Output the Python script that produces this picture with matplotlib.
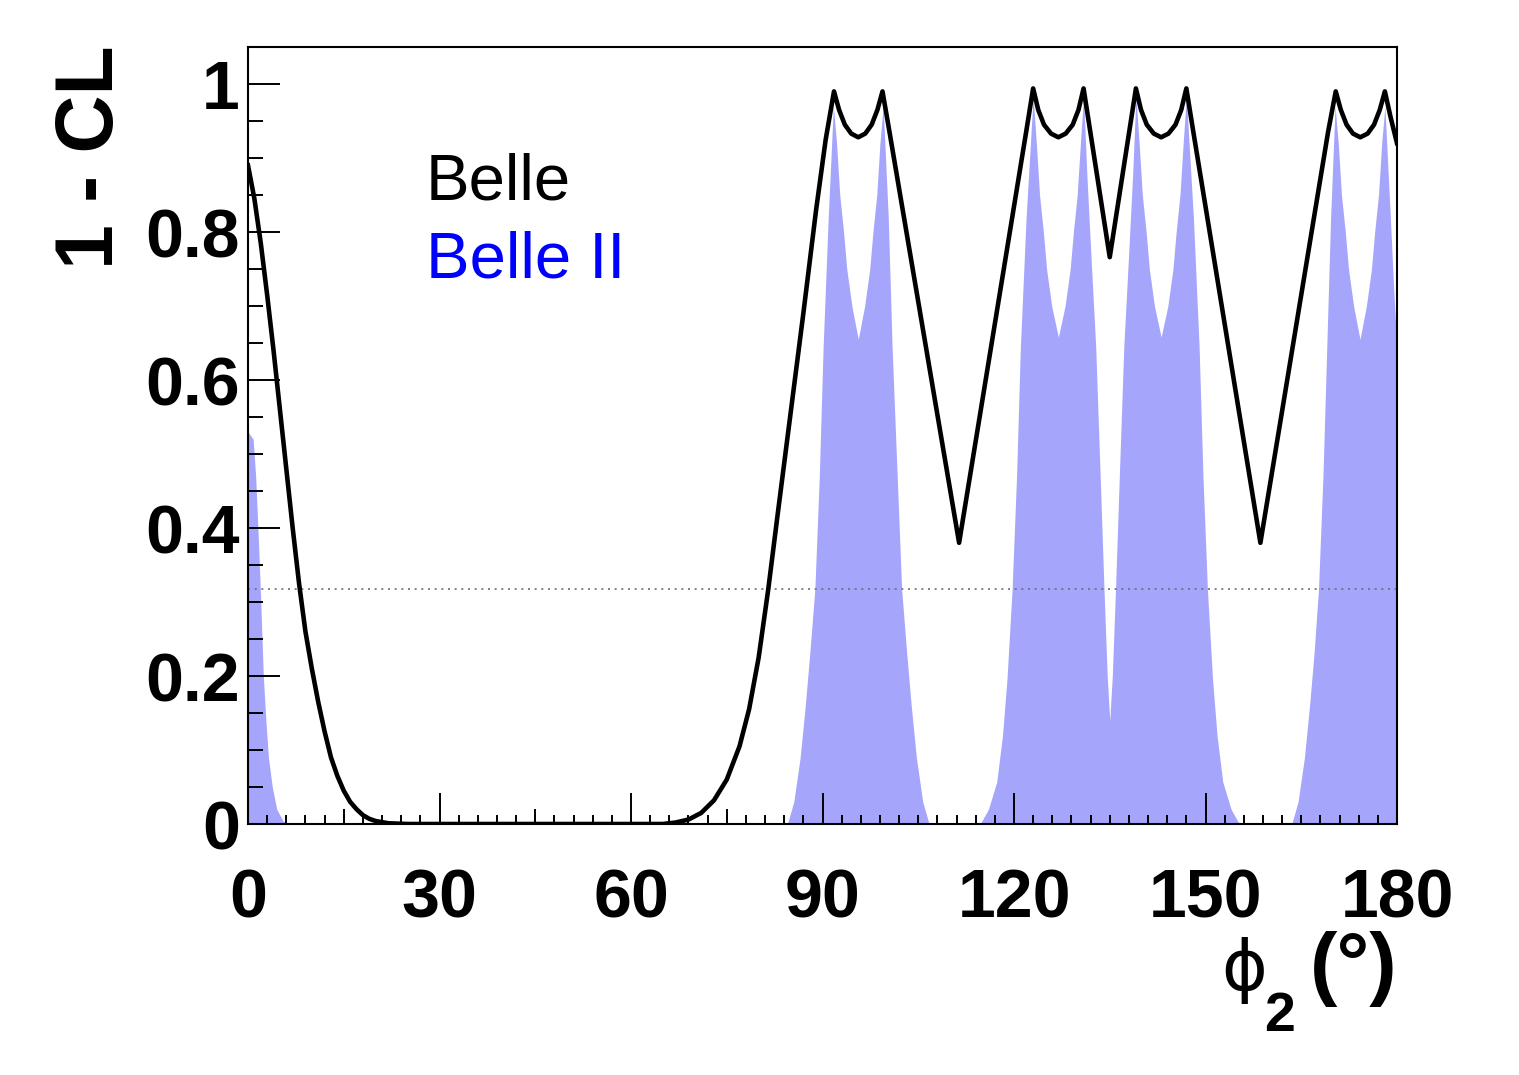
import numpy as np
import matplotlib
matplotlib.use("Agg")
import matplotlib.pyplot as plt
from matplotlib.ticker import MultipleLocator, FixedLocator, FixedFormatter

# Belle (black curve): phi2 in degrees, 1 - CL
belle_x = [0, 1, 2, 3, 4, 5, 6, 7, 8, 9, 10, 11, 12, 13, 14, 15, 16, 17, 18, 19, 20, 22, 25,
           65, 67, 69, 71, 73, 75, 77, 78.5, 80, 81.5, 83, 85, 87, 89, 90.5, 91.8,
           92.6, 93.5, 94.5, 95.6, 96.7, 97.7, 98.6, 99.4,
           100.5, 111.4, 121.9, 123.0,
           123.8, 124.7, 125.8, 126.95, 128.1, 129.2, 130.1, 130.9,
           131.6, 135.0, 138.4, 139.1,
           139.9, 140.8, 141.9, 143.05, 144.2, 145.3, 146.2, 147.0,
           148.1, 158.6, 169.2, 170.4,
           171.2, 172.1, 173.1, 174.25, 175.4, 176.4, 177.3, 178.1, 179.0, 180]
belle_y = [0.89, 0.845, 0.785, 0.715, 0.64, 0.56, 0.48, 0.40, 0.325, 0.26, 0.21, 0.165, 0.125,
           0.09, 0.065, 0.045, 0.03, 0.02, 0.012, 0.007, 0.004, 0.001, 0.0,
           0.0, 0.002, 0.006, 0.015, 0.032, 0.06, 0.105, 0.155, 0.225, 0.317, 0.42, 0.555,
           0.69, 0.83, 0.925, 0.99,
           0.965, 0.945, 0.933, 0.928, 0.933, 0.945, 0.965, 0.99,
           0.935, 0.38, 0.935, 0.994,
           0.965, 0.945, 0.933, 0.928, 0.933, 0.945, 0.965, 0.994,
           0.955, 0.766, 0.955, 0.994,
           0.965, 0.945, 0.933, 0.928, 0.933, 0.945, 0.965, 0.994,
           0.935, 0.38, 0.935, 0.99,
           0.965, 0.945, 0.933, 0.928, 0.933, 0.945, 0.965, 0.99, 0.955, 0.92]

# Belle II (blue filled)
belle2_x = [0, 0.8, 1.2, 1.6, 2.0, 2.4, 2.8, 3.2, 3.8, 4.5, 5.5, 6.5,
            84.5, 85.5, 86.5, 87.3, 88.0, 88.8, 89.5, 90.1, 90.9, 91.7,
            92.2, 92.7, 93.3, 93.8, 94.6, 95.6, 96.6, 97.4, 97.9, 98.5, 99.0, 99.5,
            100.3, 100.9, 101.7, 102.4, 103.2, 103.9, 104.7, 105.7, 106.7,
            114.7, 116.0, 117.3, 118.2, 118.9, 119.7, 120.4, 121.0, 121.9, 123.0,
            123.5, 124.0, 124.6, 125.1, 125.9, 126.95, 128.0, 128.8, 129.3, 129.9, 130.4, 130.9,
            131.4, 132.1, 132.8, 133.5, 134.1, 134.6, 135.0,
            135.4, 135.9, 136.5, 137.2, 137.9, 138.6, 139.1,
            139.6, 140.1, 140.7, 141.2, 142.0, 143.05, 144.1, 144.9, 145.4, 146.0, 146.5, 147.0,
            148.1, 149.0, 149.6, 150.3, 151.1, 151.8, 152.7, 154.0, 155.3,
            163.5, 164.5, 165.5, 166.3, 167.0, 167.7, 168.4, 169.0, 169.6, 170.3,
            170.8, 171.3, 171.9, 172.4, 173.2, 174.2, 175.2, 176.0, 176.5, 177.1, 177.6, 178.1,
            178.9, 179.5, 180]
belle2_y = [0.53, 0.52, 0.47, 0.39, 0.30, 0.20, 0.14, 0.09, 0.05, 0.02, 0.004, 0.0,
            0.0, 0.03, 0.09, 0.16, 0.23, 0.317, 0.47, 0.645, 0.82, 0.97,
            0.92, 0.85, 0.80, 0.75, 0.70, 0.655, 0.70, 0.75, 0.80, 0.85, 0.92, 0.97,
            0.82, 0.645, 0.47, 0.317, 0.23, 0.16, 0.09, 0.03, 0.0,
            0.0, 0.02, 0.057, 0.12, 0.196, 0.317, 0.47, 0.645, 0.82, 0.983,
            0.92, 0.85, 0.80, 0.75, 0.70, 0.658, 0.70, 0.75, 0.80, 0.85, 0.92, 0.983,
            0.88, 0.76, 0.645, 0.47, 0.317, 0.20, 0.14,
            0.20, 0.317, 0.47, 0.645, 0.76, 0.88, 0.983,
            0.92, 0.85, 0.80, 0.75, 0.70, 0.658, 0.70, 0.75, 0.80, 0.85, 0.92, 0.983,
            0.82, 0.645, 0.47, 0.317, 0.196, 0.12, 0.057, 0.02, 0.0,
            0.0, 0.03, 0.09, 0.16, 0.23, 0.317, 0.47, 0.645, 0.82, 0.97,
            0.92, 0.85, 0.80, 0.75, 0.70, 0.655, 0.70, 0.75, 0.80, 0.85, 0.92, 0.97,
            0.83, 0.72, 0.64]

one_sigma = 0.3173  # 1 - 0.6827
xtick_vals = [0, 30, 60, 90, 120, 150, 180]
ytick_vals = [0, 0.2, 0.4, 0.6, 0.8, 1.0]
ytick_labels = ["0", "0.2", "0.4", "0.6", "0.8", "1"]

W, H = 1519, 1075
fig = plt.figure(figsize=(W / 100, H / 100), dpi=100)
ax = fig.add_axes([248 / W, 1 - 824 / H, (1397 - 248) / W, (824 - 47) / H])

ax.fill_between(belle2_x, 0, belle2_y, color="#a5a5fc", lw=0, zorder=1)
ax.axhline(one_sigma, color="#6e6e6e", lw=1.2, ls=(0, (1.2, 2.8)), zorder=2)
ax.plot(belle_x, belle_y, color="black", lw=3.3, zorder=3, solid_joinstyle="round")

ax.set_xlim(0, 180)
ax.set_ylim(0, 1.05)

font = "Liberation Sans"
ax.xaxis.set_major_locator(FixedLocator(xtick_vals))
ax.xaxis.set_minor_locator(MultipleLocator(3))
ax.yaxis.set_major_locator(FixedLocator(ytick_vals))
ax.yaxis.set_major_formatter(FixedFormatter(ytick_labels))
ax.yaxis.set_minor_locator(MultipleLocator(0.05))
ax.tick_params(which="both", direction="in", top=False, right=False, width=1.4)
ax.tick_params(axis="x", which="major", length=22, pad=31)
ax.tick_params(axis="x", which="minor", length=6.5)
ax.tick_params(axis="y", which="major", length=23, pad=6)
ax.tick_params(axis="y", which="minor", length=11)
for lab in ax.get_xticklabels() + ax.get_yticklabels():
    lab.set_fontfamily(font)
    lab.set_fontweight("bold")
    lab.set_fontsize(49)

# intermediate ticks every 15 degrees
sec = ax.secondary_xaxis("bottom")
sec.set_xticks(np.arange(15, 180, 30))
sec.tick_params(direction="in", length=11, width=1.4, labelbottom=False)
sec.spines["bottom"].set_visible(False)

for s in ax.spines.values():
    s.set_linewidth(1.5)

# axis titles
fig.text(92 / W, 1 - 45 / H, "1 - CL", rotation=90, ha="center", va="top",
         fontfamily=font, fontweight="bold", fontsize=58)
fig.text(1397 / W, 1 - 990 / H, "(°)", ha="right", va="baseline",
         fontfamily=font, fontweight="bold", fontsize=59)
fig.text(1244 / W, 1 - 990 / H, "ϕ", ha="center", va="baseline",
         fontfamily="DejaVu Sans", fontsize=50)
fig.text(1264 / W, 1 - 1031 / H, "2", ha="left", va="baseline",
         fontfamily=font, fontweight="bold", fontsize=40)

# legend text
fig.text(426 / W, 1 - 200 / H, "Belle", ha="left", va="baseline",
         fontfamily=font, fontsize=47, color="black")
fig.text(426 / W, 1 - 277 / H, "Belle II", ha="left", va="baseline",
         fontfamily=font, fontsize=47, color="#0000ff")

fig.savefig("out.png", dpi=100, facecolor="white")
